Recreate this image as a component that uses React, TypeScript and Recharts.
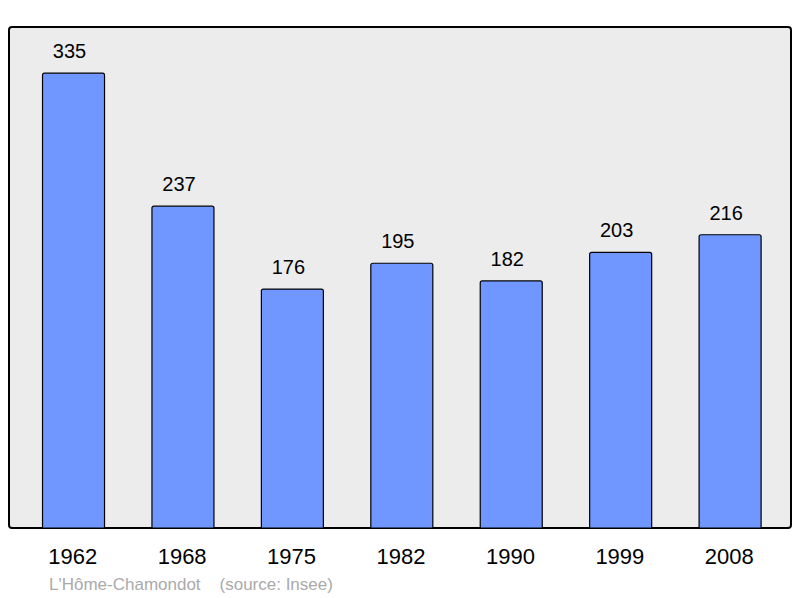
import React from 'react';
import { BarChart, Bar, XAxis, YAxis, CartesianGrid, LabelList, Customized } from 'recharts';

const years = ['1962', '1968', '1975', '1982', '1990', '1999', '2008'];
const population = [335, 237, 176, 195, 182, 203, 216];
const yMax = 369;

const data = years.map((year, i) => ({ year, population: population[i] }));

const W = 800;
const H = 598;
// plot frame: x 9..791, y 27..528
const FRAME = { x: 9, y: 27, w: 782, h: 501 };
const AXIS_H = 30;
const M = { top: FRAME.y, right: W - FRAME.x - FRAME.w, bottom: H - FRAME.y - FRAME.h - AXIS_H, left: FRAME.x };

const Frame = () => (
  <g>
    <rect
      x={FRAME.x}
      y={FRAME.y}
      width={FRAME.w}
      height={FRAME.h}
      rx={3}
      ry={3}
      fill="none"
      stroke="#000"
      strokeWidth={2}
    />
    <text x={49} y={590} fill="#aaaaaa" fontSize={17} fontFamily="'Liberation Sans', Arial, sans-serif">
      L'Hôme-Chamondot{'\u00a0\u00a0\u00a0\u00a0'}(source: Insee)
    </text>
  </g>
);

export default function App() {
  return (
    <div style={{ position: 'absolute', left: 0, top: 0, width: W, height: H, background: '#fff' }}>
      <BarChart
        width={W}
        height={H}
        data={data}
        margin={M}
        barCategoryGap="21.5%"
        style={{ fontFamily: "'Liberation Sans', Arial, sans-serif" }}
      >
        <CartesianGrid fill="#ececec" horizontal={false} vertical={false} />
        <XAxis
          dataKey="year"
          height={AXIS_H}
          axisLine={false}
          tickLine={false}
          padding={{ left: 10, right: 6 }}
          tick={{ fill: '#000', fontSize: 22, dx: -1 }}
          tickMargin={14}
        />
        <YAxis hide domain={[0, yMax]} />
        <Bar
          dataKey="population"
          fill="#7097ff"
          stroke="#000"
          strokeWidth={1.2}
          radius={[2, 2, 0, 0]}
          isAnimationActive={false}
        >
          <LabelList dataKey="population" position="top" offset={15} fill="#000" fontSize={20} dx={-4} />
        </Bar>
        <Customized component={<Frame />} />
      </BarChart>
    </div>
  );
}
